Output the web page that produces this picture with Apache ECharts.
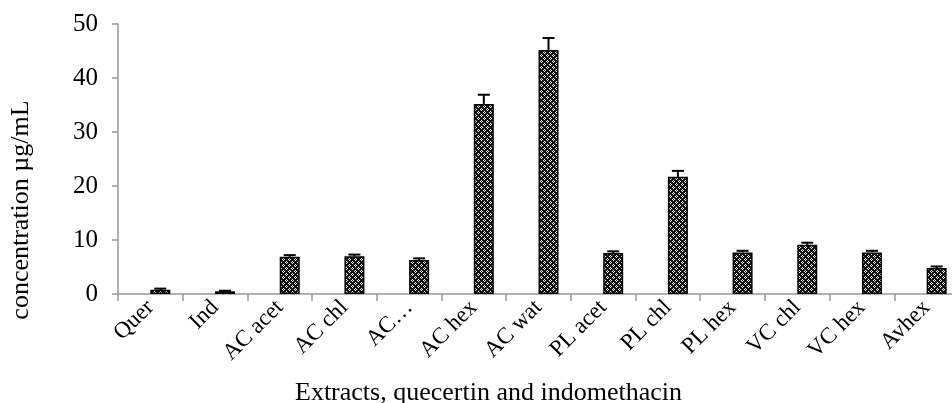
<!DOCTYPE html>
<html>
<head>
<meta charset="utf-8">
<script src="https://cdn.jsdelivr.net/npm/echarts@6/dist/echarts.min.js"></script>
<style>html,body{margin:0;padding:0;background:#fff}#c{width:952px;height:403px}</style>
</head>
<body>
<div id="c"></div>
<script>
const categories = ['Quer','Ind','AC acet','AC chl','AC…','AC hex','AC wat','PL acet','PL chl','PL hex','VC chl','VC hex','Avhex'];
const firstValues = [0, 0.1, 0, 0, 0, 0, 0, 0, 0, 0, 0, 0, 0];
const values = [0.8, 0.5, 6.9, 7.0, 6.3, 35.2, 45.2, 7.6, 21.7, 7.7, 9.1, 7.7, 4.8];
const errors = [0.2, 0.1, 0.3, 0.3, 0.3, 1.7, 2.2, 0.3, 1.1, 0.3, 0.4, 0.3, 0.3];
const yTicks = [0, 10, 20, 30, 40, 50];

function makePattern() {
  const c = document.createElement('canvas');
  c.width = 6; c.height = 6;
  const g = c.getContext('2d');
  g.fillStyle = '#111';
  g.fillRect(0, 0, 6, 6);
  g.fillStyle = '#fff';
  g.fillRect(1, 0, 1, 1); g.fillRect(0, 1, 1, 1); g.fillRect(2, 1, 1, 1); g.fillRect(1, 2, 1, 1);
  g.fillRect(4, 3, 1, 1); g.fillRect(3, 4, 1, 1); g.fillRect(5, 4, 1, 1); g.fillRect(4, 5, 1, 1);
  return c;
}

const chart = echarts.init(document.getElementById('c'), null, {renderer: 'canvas'});
const font = 'Liberation Serif';
const BW = 20;
chart.setOption({
  animation: false,
  grid: {left: 118, right: -7, top: 24, bottom: 109, containLabel: false, outerBoundsMode: 'none'},
  xAxis: {
    type: 'category',
    data: categories,
    name: 'Extracts, quecertin and indomethacin',
    nameLocation: 'middle',
    nameGap: 86,
    nameTextStyle: {fontFamily: font, fontSize: 26, color: '#000', padding: [0, 100, 0, 0]},
    axisLine: {lineStyle: {color: '#999', width: 1.5}},
    axisTick: {show: true, length: 7, lineStyle: {color: '#999', width: 1.5}},
    axisLabel: {rotate: 45, interval: 0, fontFamily: font, fontSize: 23, color: '#000', margin: 10}
  },
  yAxis: {
    type: 'value',
    min: 0, max: 50, interval: 10,
    name: 'concentration µg/mL',
    nameLocation: 'middle',
    nameGap: 84,
    nameTextStyle: {fontFamily: font, fontSize: 26, color: '#000', padding: [0, 102, 0, 0]},
    axisLine: {show: true, lineStyle: {color: '#999', width: 1.5}},
    axisTick: {show: true, length: 6, lineStyle: {color: '#999', width: 1.5}},
    splitLine: {show: false},
    axisLabel: {fontFamily: font, fontSize: 25, color: '#000', margin: 20,
      formatter: v => yTicks.includes(v) ? String(v) : ''}
  },
  series: [
    {type: 'bar', data: firstValues, barWidth: BW, barGap: '0%',
     itemStyle: {color: '#aaa'}},
    {type: 'bar', data: values, barWidth: BW, barGap: '0%',
     itemStyle: {color: {image: makePattern(), repeat: 'repeat'}, borderColor: '#000', borderWidth: 1.5}},
    {type: 'custom', data: values.map((v, i) => [i, v, errors[i]]),
     renderItem: function (params, api) {
       const i = api.value(0), v = api.value(1), e = api.value(2);
       const top = api.coord([i, v + e]);
       const mid = api.coord([i, v]);
       const x = top[0] + BW / 2;
       return {type: 'group', children: [
         {type: 'line', shape: {x1: x, y1: top[1], x2: x, y2: mid[1]}, style: {stroke: '#000', lineWidth: 2}},
         {type: 'line', shape: {x1: x - 6, y1: top[1], x2: x + 6, y2: top[1]}, style: {stroke: '#000', lineWidth: 2}}
       ]};
     }, z: 5}
  ]
});
</script>
</body>
</html>
